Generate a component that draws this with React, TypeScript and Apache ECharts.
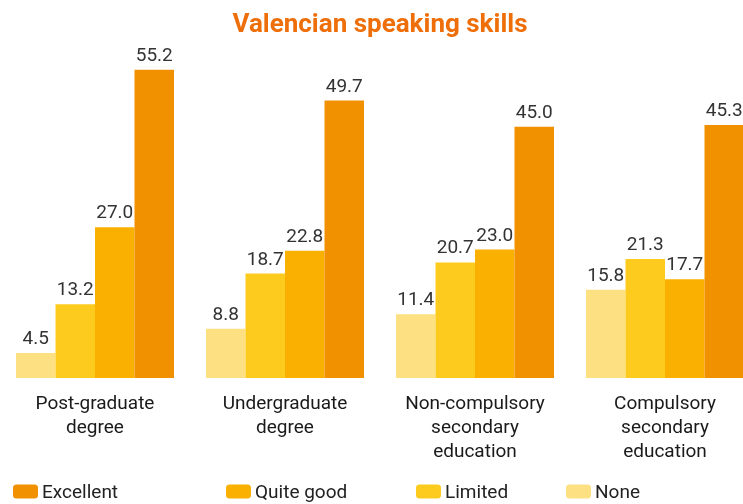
import React, { useEffect, useRef } from "react";
import * as echarts from "echarts";

const categories = [
  "Post-graduate\ndegree",
  "Undergraduate\ndegree",
  "Non-compulsory\nsecondary\neducation",
  "Compulsory\nsecondary\neducation",
];
const seriesNames = ["None", "Limited", "Quite good", "Excellent"];
const noneValues = [4.5, 8.8, 11.4, 15.8];
const limitedValues = [13.2, 18.7, 20.7, 21.3];
const quiteGoodValues = [27.0, 22.8, 23.0, 17.7];
const excellentValues = [55.2, 49.7, 45.0, 45.3];
const colors = ["#FDE082", "#FDCB1E", "#F9B000", "#F29100"];
const legendOrder = ["Excellent", "Quite good", "Limited", "None"];
const legendLefts = [13, 226, 416, 566];

export default function App() {
  const ref = useRef<HTMLDivElement>(null);
  useEffect(() => {
    if (!ref.current) return;
    const chart = echarts.init(ref.current, null, { renderer: "svg" });
    const values = [noneValues, limitedValues, quiteGoodValues, excellentValues];
    chart.setOption({
      animation: false,
      textStyle: { fontFamily: "Roboto" },
      title: {
        text: "Valencian speaking skills",
        left: 375,
        textAlign: "center",
        top: 5,
        textStyle: { fontSize: 26, fontWeight: "bold", color: "#EE6F0A", fontFamily: "Roboto" },
      },
      legend: legendOrder.map((n, i) => ({
        data: [n],
        left: legendLefts[i],
        top: 482,
        itemWidth: 25,
        itemHeight: 14,
        itemGap: 5,
        padding: 0,
        selectedMode: false,
        textStyle: { fontSize: 19, color: "#222", fontFamily: "Roboto", padding: [0, 0, 0, -1] },
      })),
      grid: { left: -4, width: 764, top: 43, bottom: 126, containLabel: false },
      xAxis: {
        type: "category",
        data: categories,
        axisLine: { show: false },
        axisTick: { show: false },
        axisLabel: {
          interval: 0,
          margin: 12,
          fontSize: 19,
          lineHeight: 24,
          color: "#1a1a1a",
          fontFamily: "Roboto",
        },
      },
      yAxis: { type: "value", min: 0, max: 60, show: false, splitLine: { show: false } },
      series: seriesNames.map((n, i) => ({
        name: n,
        type: "bar",
        data: values[i],
        barWidth: 39.5,
        barGap: "0%",
        itemStyle: { color: colors[i] },
        label: {
          show: true,
          position: "top",
          distance: 6,
          fontSize: 19,
          color: "#333",
          fontFamily: "Roboto",
          formatter: (p: any) => Number(p.value).toFixed(1),
        },
      })),
    });
    return () => chart.dispose();
  }, []);
  return (
    <div style={{ position: "fixed", left: 0, top: 0, width: 743, height: 504, overflow: "hidden" }}>
      <div ref={ref} style={{ width: 770, height: 504 }} />
    </div>
  );
}
